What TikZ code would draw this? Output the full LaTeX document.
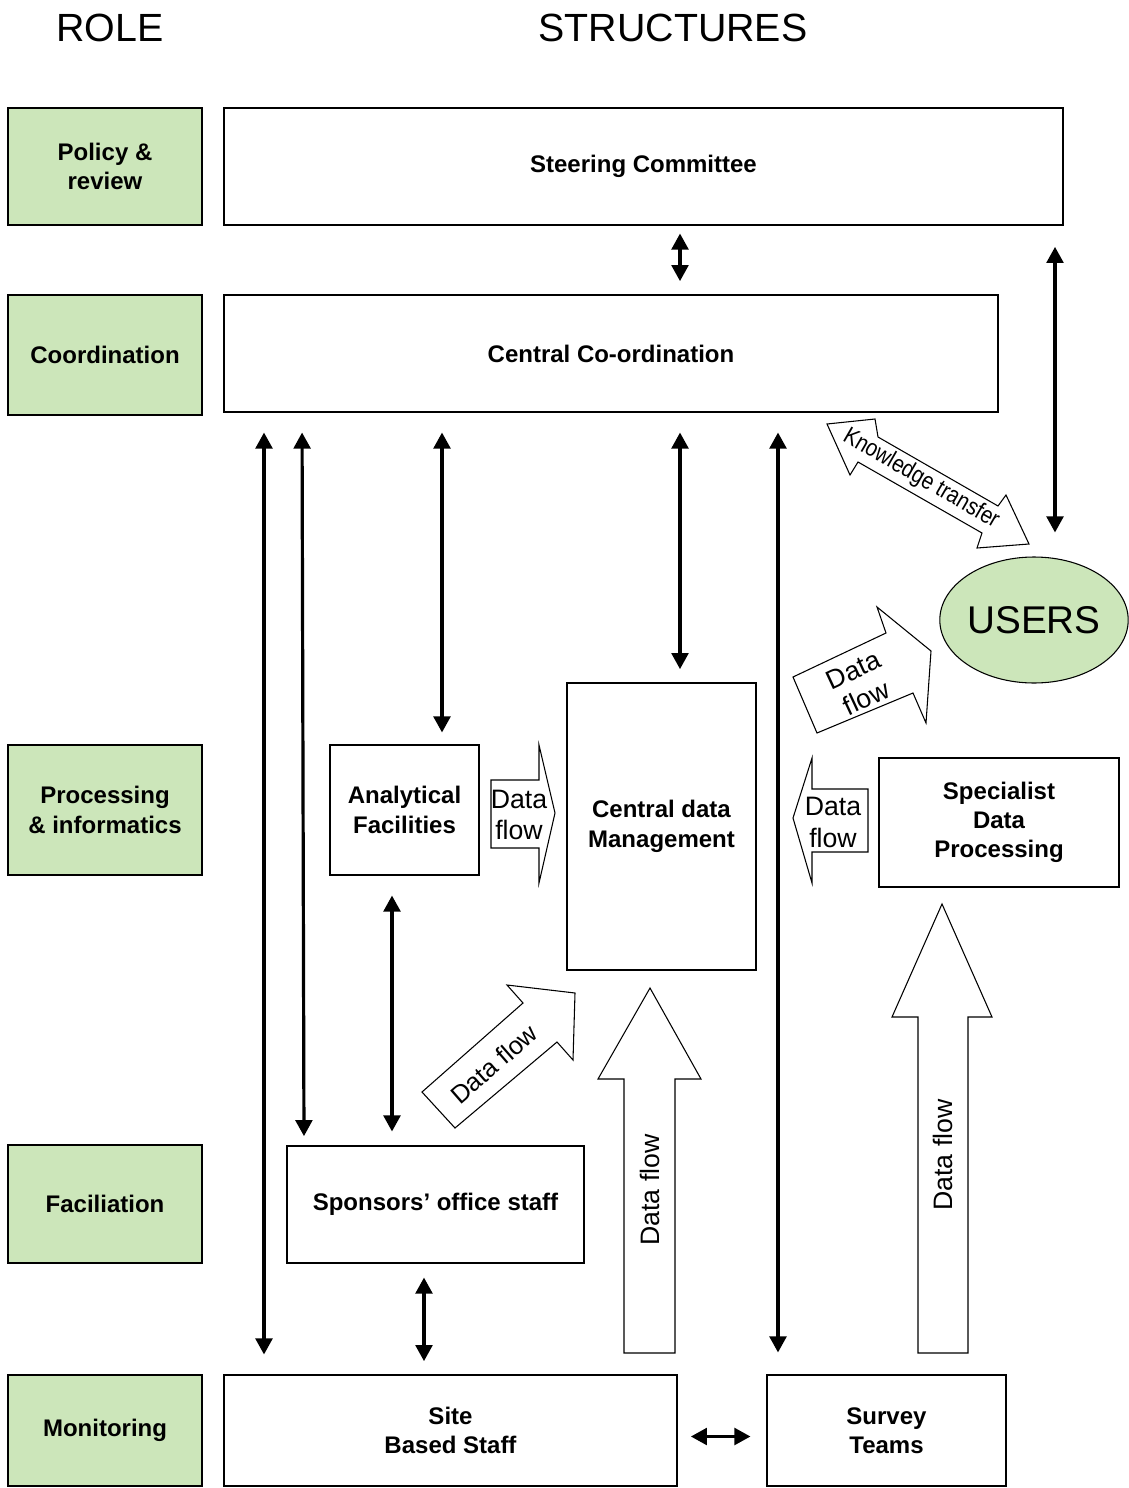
\documentclass[tikz,border=0pt]{standalone}
\usepackage{fontspec}
\setmainfont{Liberation Sans}
\usetikzlibrary{arrows.meta,shapes.geometric}
\definecolor{rolegreen}{RGB}{204,230,186}

\begin{document}
\begin{tikzpicture}[x=0.75pt, y=-0.75pt,
    role/.style={draw, fill=rolegreen, line width=0.8pt, inner sep=0pt, align=center, font=\fontsize{18}{22}\selectfont\bfseries},
    unit/.style={draw, line width=0.8pt, inner sep=0pt, align=center, font=\fontsize{18}{22}\selectfont\bfseries},
    link/.style={{Triangle[length=12pt,width=12.5pt]}-{Triangle[length=12pt,width=12.5pt]}, line width=2.4pt},
    blockarrow/.style={draw, fill=white, line width=0.8pt, line join=miter},
    flowtext/.style={inner sep=0pt, align=center, font=\fontsize{20}{23}\selectfont}]

    \useasboundingbox (0,0) rectangle (1128,1488);

    % Headings
    \node[font=\fontsize{29.5}{35}\selectfont] (role) at (110,28) {ROLE};
    \node[font=\fontsize{29.5}{35}\selectfont] (structures) at (673,28) {STRUCTURES};

    % Role column
    \node[role, minimum width=145.5pt, minimum height=87.75pt] (policy) at (105,166.5) {Policy \&\\review};
    \node[role, minimum width=145.5pt, minimum height=90pt] (coordination) at (105,355) {Coordination};
    \node[role, minimum width=145.5pt, minimum height=97.5pt] (processing) at (105,810) {Processing\\\& informatics};
    \node[role, minimum width=145.5pt, minimum height=88.5pt] (faciliation) at (105,1204) {Faciliation};
    \node[role, minimum width=145.5pt, minimum height=83.25pt] (monitoring) at (105,1430.5) {Monitoring};

    % Structures
    \node[unit, minimum width=629.25pt, minimum height=87.75pt] (SC) at (643.5,166.5) {Steering Committee};
    \node[unit, minimum width=580.5pt, minimum height=87.75pt] (CC) at (611,353.5) {Central Co-ordination};
    \node[unit, minimum width=111.75pt, minimum height=97.5pt] (AF) at (404.5,810) {Analytical\\Facilities};
    \node[unit, minimum width=141.75pt, minimum height=215.25pt] (CDM) at (661.5,826.5) {Central data\\Management};
    \node[unit, minimum width=180pt, minimum height=96.75pt] (SDP) at (999,822.5) {Specialist\\Data\\Processing};
    \node[unit, minimum width=222.75pt, minimum height=87.75pt] (SOS) at (435.5,1204.5) {Sponsors’ office staff};
    \node[unit, minimum width=339.75pt, minimum height=83.25pt] (SBS) at (450.5,1430.5) {Site\\Based Staff};
    \node[unit, minimum width=179.25pt, minimum height=83.25pt] (ST) at (886.5,1430.5) {Survey\\Teams};
    \node[ellipse, draw, fill=rolegreen, line width=0.8pt, inner sep=0pt, minimum width=138pt, minimum height=94.5pt,
          font=\fontsize{29}{34}\selectfont] (U) at (1034,620) {USERS};

    % Links
    \draw[link, shorten <=6pt, shorten >=10pt] (SC.south -| 680,0) -- (CC.north -| 680,0);
    \draw[link, shorten <=16pt, shorten >=18pt] (SC.south -| 1055,0) -- (U.north -| 1055,0);
    \draw[link, shorten <=15pt, shorten >=15pt] (CC.south -| 264,0) -- (SBS.north -| 264,0);
    \draw[link, shorten <=15pt, shorten >=7pt] (CC.south -| 302,0) -- (SOS.north -| 304,0);
    \draw[link, shorten <=15pt, shorten >=9pt] (CC.south -| 442,0) -- (AF.north -| 442,0);
    \draw[link, shorten <=15pt, shorten >=10pt] (CC.south -| 680,0) -- (CDM.north -| 680,0);
    \draw[link, shorten <=15pt, shorten >=16.5pt] (CC.south -| 778,0) -- (ST.north -| 778,0);
    \draw[link, shorten <=15pt, shorten >=10.5pt] (AF.south -| 392,0) -- (SOS.north -| 392,0);
    \draw[link, shorten <=10.5pt, shorten >=10pt] (SOS.south -| 424,0) -- (SBS.north -| 424,0);
    \draw[link, shorten <=10pt, shorten >=12pt] ([yshift=-4.5pt]SBS.east) -- ([yshift=-4.5pt]ST.west);

    % Data flow arrows
    \draw[blockarrow] (491,780) -- (539,780) -- (539,745) -- (555,813) -- (539,883) -- (539,848) -- (491,848) -- cycle;
    \node[flowtext] (df1) at (519,815) {Data\\flow};

    \draw[blockarrow] (868,789) -- (812,789) -- (812,758) -- (793,818) -- (812,883) -- (812,852) -- (868,852) -- cycle;
    \node[flowtext, font=\fontsize{20}{24}\selectfont] (df2) at (833,822) {Data\\flow};

    \draw[blockarrow] (422,1092) -- (523,1003) -- (507,985) -- (575,993) -- (573,1060) -- (557,1042) -- (455,1128) -- cycle;
    \node[flowtext, font=\fontsize{19}{22}\selectfont, rotate=41] (df3) at (494,1064) {Data flow};

    \draw[blockarrow] (624,1353) -- (624,1079) -- (598,1079) -- (650,988) -- (701,1079) -- (675,1079) -- (675,1353) -- cycle;
    \node[flowtext, rotate=90] (df4) at (650,1190) {Data flow};

    \draw[blockarrow] (918,1353) -- (918,1017) -- (892,1017) -- (942,904) -- (992,1017) -- (968,1017) -- (968,1353) -- cycle;
    \node[flowtext, rotate=90] (df5) at (943,1155) {Data flow};

    \draw[blockarrow] (793,677) -- (886,633) -- (877,607) -- (931,651) -- (926,723) -- (913,693) -- (817,733) -- cycle;
    \node[flowtext, rotate=25] (df6) at (860,684) {Data\\flow};

    % Knowledge transfer
    \draw[blockarrow] (827,424) -- (875,419) -- (878,437) -- (998,506) -- (1006,495) -- (1029,544) -- (977,548) -- (982,533) -- (858,462) -- (850,475) -- cycle;
    \node[flowtext, font=\fontsize{18}{21}\selectfont, rotate=-30, xscale=0.85] (kt) at (921,479) {Knowledge transfer};

\end{tikzpicture}
\end{document}
